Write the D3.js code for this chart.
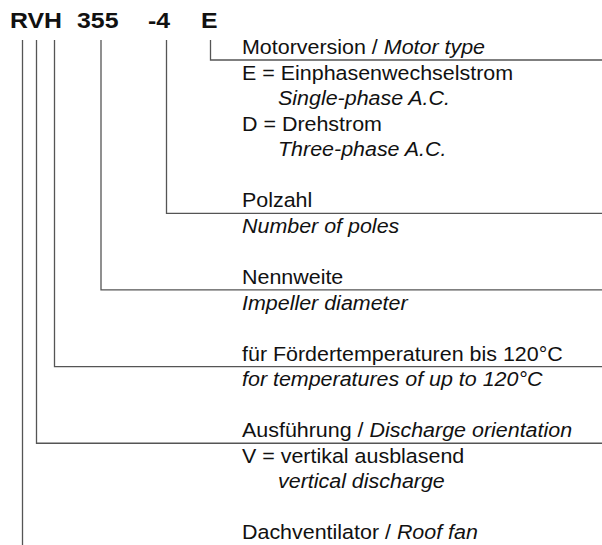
<!DOCTYPE html>
<html>
<head>
<meta charset="utf-8">
<script src="https://cdn.jsdelivr.net/npm/d3@7"></script>
<style>
  body { margin: 0; background: #fff; }
  svg text { font-family: Arial, "Liberation Sans", sans-serif; fill: #111; }
</style>
</head>
<body>
<div id="typcode"></div>
<script>
// Daten
const codeGroups = ["RVH", "355", "-4", "E"];
const codeLetters = ["R", "V", "H", "355", "-4", "E"];
const headingRows = [19, 15, 12, 9, 6, 0]; // Zeile der Überschrift je Stelle

const textRows = [
  { row: 0, de: "Motorversion / ", en: "Motor type" },
  { row: 1, de: "E = Einphasenwechselstrom" },
  { row: 2, en: "Single-phase A.C.", indent: true },
  { row: 3, de: "D = Drehstrom" },
  { row: 4, en: "Three-phase A.C.", indent: true },
  { row: 6, de: "Polzahl" },
  { row: 7, en: "Number of poles" },
  { row: 9, de: "Nennweite" },
  { row: 10, en: "Impeller diameter" },
  { row: 12, de: "für Fördertemperaturen bis 120°C" },
  { row: 13, en: "for temperatures of up to 120°C" },
  { row: 15, de: "Ausführung / ", en: "Discharge orientation" },
  { row: 16, de: "V = vertikal ausblasend" },
  { row: 17, en: "vertical discharge", indent: true },
  { row: 19, de: "Dachventilator / ", en: "Roof fan" }
];

// Layout
const breite = 602;
const hoehe = 545;
const groupX = [10, 77, 148, 201];
const lineX = [22.5, 36.5, 54.5, 101, 166.5, 210.5];
const textX = 242;
const indentX = 278;
const lineTop = 40;
const stretch = 1.1;

function createTypcode() {
  const svg = d3.select("#typcode").append("svg")
    .attr("width", breite)
    .attr("height", hoehe);

  const yScale = d3.scaleLinear().domain([0, 1]).range([54, 79.55]);

  // Kopfzeile
  svg.append("g").selectAll("text")
    .data(codeGroups)
    .enter()
    .append("text")
    .attr("transform", (d, i) => `translate(${groupX[i]},28) scale(1.13,1)`)
    .style("font-size", "22px")
    .style("font-weight", "bold")
    .text(d => d);

  // Verbindungslinien (die letzte liegt unterhalb des Bildes)
  const linien = svg.append("g")
    .attr("fill", "none")
    .attr("stroke", "#555")
    .attr("stroke-width", 1.3);

  linien.selectAll("path")
    .data(codeLetters)
    .enter()
    .append("path")
    .attr("d", (d, i) => {
      const y = yScale(headingRows[i]) + (headingRows[i] === 19 ? 12 : 6);
      return `M${lineX[i]},${lineTop}V${y}H${breite}`;
    });

  // Beschriftung
  const texte = svg.append("g").selectAll("text")
    .data(textRows)
    .enter()
    .append("text")
    .attr("transform", d => `translate(${d.indent ? indentX : textX},${yScale(d.row)}) scale(${stretch},1)`)
    .style("font-size", "19.5px");

  texte.filter(d => d.de).append("tspan").text(d => d.de);
  texte.filter(d => d.en).append("tspan")
    .style("font-style", "italic")
    .text(d => d.en);
}

createTypcode();
</script>
</body>
</html>
